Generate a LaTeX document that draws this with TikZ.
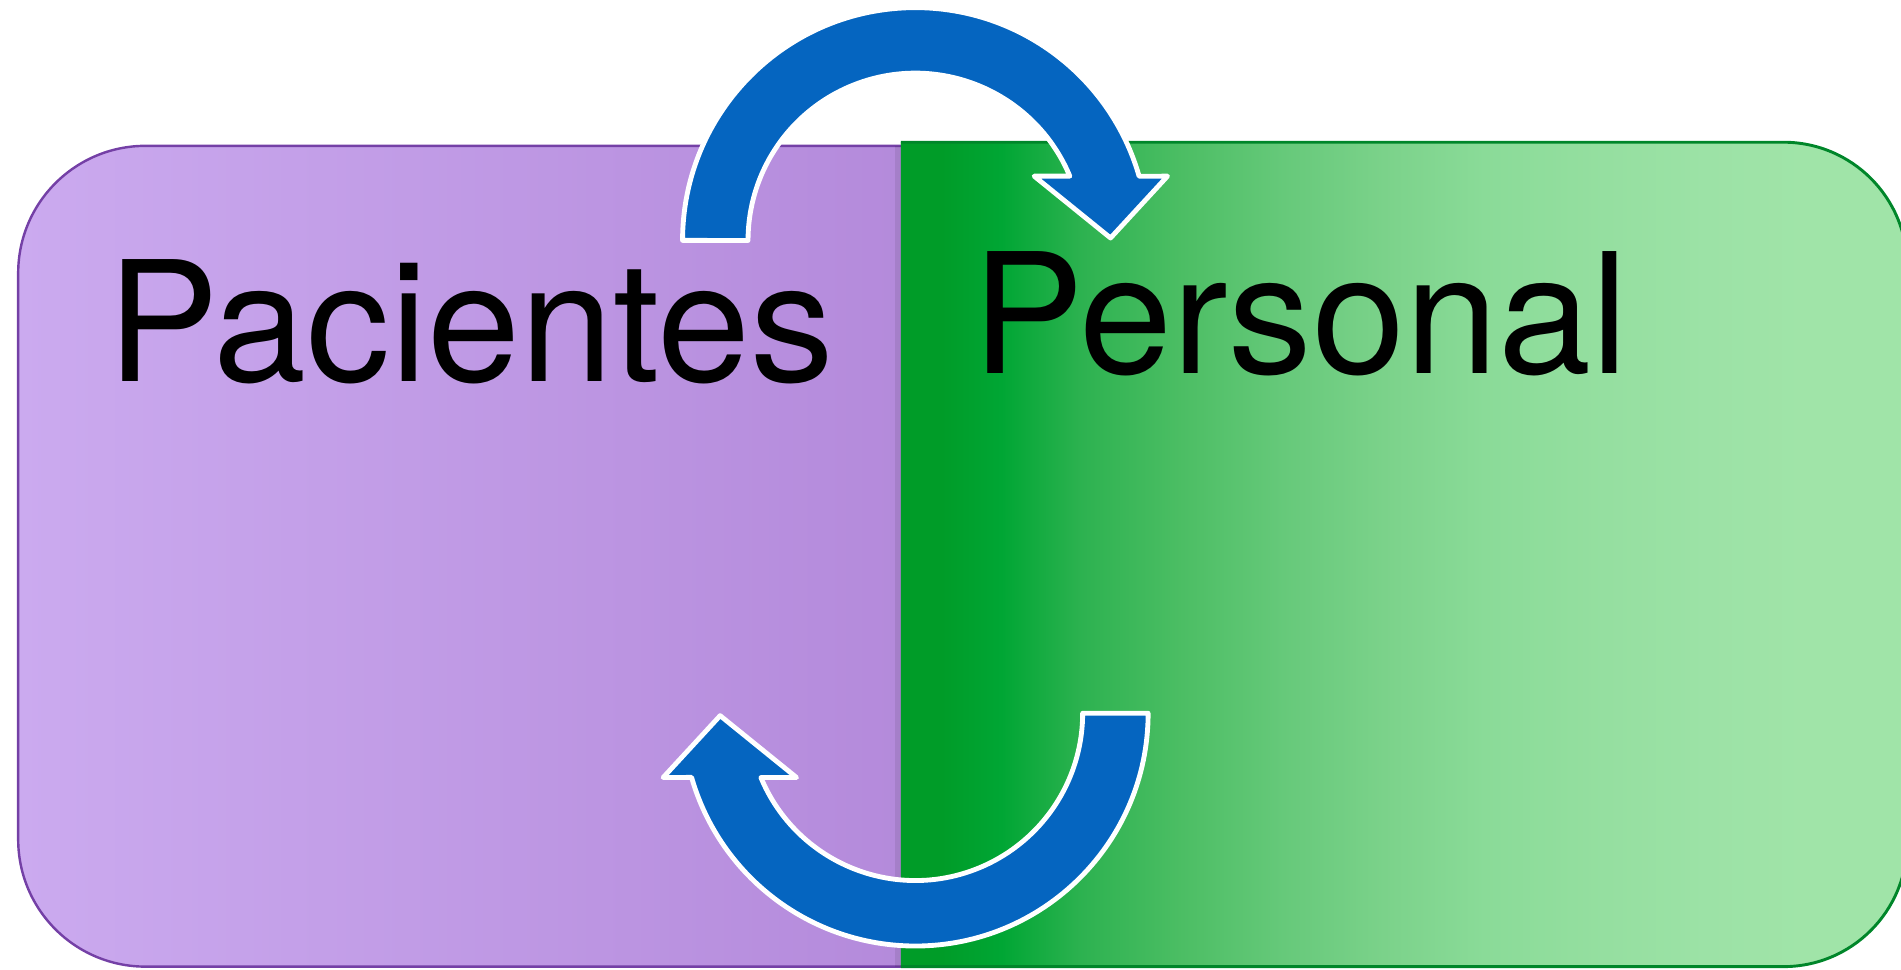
\documentclass[tikz,border=0pt]{standalone}
\usepackage{fontspec}
\setmainfont{TeX Gyre Heros}
\definecolor{pA}{HTML}{CBAAEF}
\definecolor{pB}{HTML}{B48ADB}
\definecolor{pBorder}{HTML}{7440A6}
\definecolor{gBorder}{HTML}{00862A}
\definecolor{g0}{HTML}{009C28}
\definecolor{g1}{HTML}{00A634}
\definecolor{g2}{HTML}{2DB250}
\definecolor{g3}{HTML}{4CBE64}
\definecolor{g4}{HTML}{66C97A}
\definecolor{g5}{HTML}{7BD28A}
\definecolor{g6}{HTML}{8ADB98}
\definecolor{g7}{HTML}{95DFA0}
\definecolor{g8}{HTML}{9CE2A6}
\definecolor{g9}{HTML}{A0E4A8}
\definecolor{arrowblue}{HTML}{0565C0}
\pgfdeclarehorizontalshading{greenshade}{100bp}{color(0bp)=(g0); color(27bp)=(g0); color(30bp)=(g1); color(34bp)=(g2); color(39bp)=(g3); color(44bp)=(g4); color(49bp)=(g5); color(54bp)=(g6); color(60bp)=(g7); color(65bp)=(g8); color(70bp)=(g9); color(100bp)=(g9)}
\tikzset{
  blockarrow/.style={fill=arrowblue, draw=white, line width=2pt, line join=round},
  bigtext/.style={anchor=base west, inner sep=0pt, font=\fontsize{69}{80}\selectfont, text=black}
}
\begin{document}
\begin{tikzpicture}[x=0.5pt,y=0.5pt]
\useasboundingbox (0,0) rectangle (1568,799.3);
\begin{scope}
\clip (0,0) rectangle (1568,799.3);
% purple box
\shade[left color=pA, right color=pB] (745,679) -- (120,679) arc[start angle=90,end angle=180,radius=105] -- (15,107) arc[start angle=180,end angle=270,radius=105] -- (745,2) -- cycle;
\draw[pBorder, line width=1pt] (745,679) -- (120,679) arc[start angle=90,end angle=180,radius=105] -- (15,107) arc[start angle=180,end angle=270,radius=105] -- (745,2);
% faint shadow on the join
\fill[black, opacity=0.08] (738,2) rectangle (743,679);
% green box
\shade[shading=greenshade] (743,682) -- (1471,682) arc[start angle=90,end angle=0,radius=102] -- (1573,104) arc[start angle=0,end angle=-90,radius=102] -- (743,2) -- cycle;
\draw[gBorder, line width=1.2pt] (743,682) -- (1471,682) arc[start angle=90,end angle=0,radius=102] -- (1573,104) arc[start angle=0,end angle=-90,radius=102] -- (743,2);
\end{scope}
% texts
\node[bigtext] (pac) at (88,485) {Pacientes};
\node[bigtext] (per) at (802,491) {Personal};
% top curved arrow
\draw[blockarrow] (563,601) arc[start angle=180,end angle=16,radius=192] -- (963,654) -- (916,603) -- (853,654) -- (882.4,654) arc[start angle=22.6,end angle=180,radius=138] -- cycle;
% bottom curved arrow
\begin{scope}[rotate around={180:(755,406)}]
\draw[blockarrow] (563,601) arc[start angle=180,end angle=16,radius=192] -- (963,654) -- (916,603) -- (853,654) -- (882.4,654) arc[start angle=22.6,end angle=180,radius=138] -- cycle;
\end{scope}
\end{tikzpicture}
\end{document}
